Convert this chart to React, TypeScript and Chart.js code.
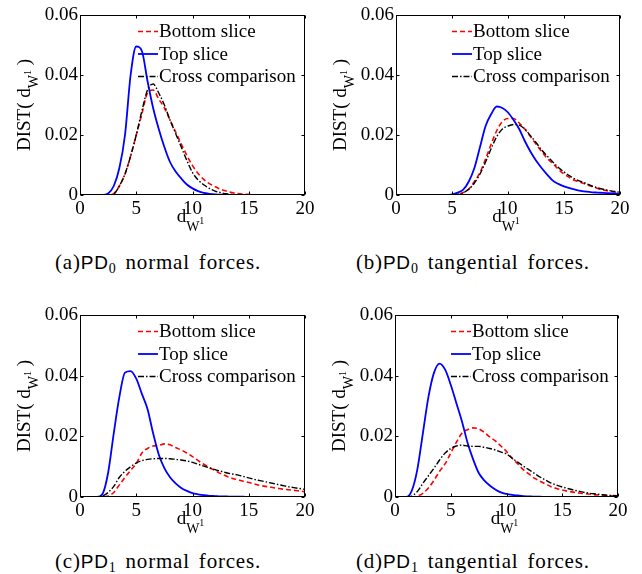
import React, { useEffect, useRef } from 'react';
import { Chart, registerables } from 'chart.js';

Chart.register(...registerables);

const SERIF = "'Liberation Serif', 'Times New Roman', serif";
const SANS = "'Liberation Sans', Arial, sans-serif";

const X_VALUES = [
  0, 0.5, 1, 1.5, 2, 2.5, 3, 3.5, 4, 4.5,
  5, 5.5, 6, 6.5, 7, 7.5, 8, 8.5, 9, 9.5,
  10, 10.5, 11, 11.5, 12, 12.5, 13, 13.5, 14, 14.5,
  15, 15.5, 16, 16.5, 17, 17.5, 18, 18.5, 19, 19.5,
  20,
];
const X_TICKS = [0, 5, 10, 15, 20];
const Y_TICKS = [0, 0.02, 0.04, 0.06];
const SERIES_NAMES = ['Bottom slice', 'Top slice', 'Cross comparison'];

// (a) PD0 normal forces
const A_BOTTOM = [0, 0, 0, 0, 0, 0, 0.0005, 0.003, 0.007, 0.013, 0.02, 0.027, 0.034, 0.035, 0.032, 0.029, 0.025, 0.021, 0.017, 0.0132, 0.0098, 0.0072, 0.0052, 0.0038, 0.0028, 0.0019, 0.0013, 0.0008, 0.0005, 0.0003, 0.0002, 0.0001, 0.0001, 0, 0, 0, 0, 0, 0, 0, 0];
const A_TOP = [0, 0, 0, 0, 0, 0.0005, 0.003, 0.009, 0.02, 0.04, 0.0495, 0.048, 0.038, 0.029, 0.022, 0.016, 0.011, 0.0078, 0.0055, 0.0035, 0.0022, 0.0013, 0.0007, 0.0004, 0.0002, 0.0001, 0.0001, 0, 0, 0, 0, 0, 0, 0, 0, 0, 0, 0, 0, 0, 0];
const A_CROSS = [0, 0, 0, 0, 0, 0, 0.0003, 0.003, 0.007, 0.013, 0.02, 0.028, 0.035, 0.037, 0.034, 0.03, 0.025, 0.0205, 0.016, 0.0115, 0.0075, 0.005, 0.0034, 0.0022, 0.0013, 0.0008, 0.0004, 0.0002, 0.0001, 0, 0, 0, 0, 0, 0, 0, 0, 0, 0, 0, 0];

// (b) PD0 tangential forces
const B_BOTTOM = [0, 0, 0, 0, 0, 0, 0, 0, 0, 0, 0, 0.0002, 0.0008, 0.002, 0.0045, 0.0075, 0.012, 0.017, 0.0215, 0.0245, 0.0255, 0.0255, 0.024, 0.022, 0.0195, 0.017, 0.0145, 0.0122, 0.0105, 0.0085, 0.007, 0.0058, 0.0048, 0.0042, 0.0035, 0.0028, 0.0022, 0.0017, 0.0013, 0.001, 0.0007];
const B_TOP = [0, 0, 0, 0, 0, 0, 0, 0, 0, 0, 0.0002, 0.0008, 0.0018, 0.0045, 0.009, 0.016, 0.023, 0.027, 0.0295, 0.029, 0.0275, 0.025, 0.022, 0.018, 0.0145, 0.0115, 0.009, 0.0068, 0.0048, 0.0037, 0.0029, 0.0023, 0.0018, 0.0014, 0.0011, 0.0009, 0.0008, 0.0007, 0.0006, 0.0005, 0.0004];
const B_CROSS = [0, 0, 0, 0, 0, 0, 0, 0, 0, 0, 0, 0.0002, 0.0008, 0.0019, 0.004, 0.007, 0.011, 0.0155, 0.0195, 0.022, 0.023, 0.0235, 0.0233, 0.022, 0.0198, 0.0175, 0.015, 0.013, 0.011, 0.0092, 0.0077, 0.0064, 0.0053, 0.0045, 0.0038, 0.003, 0.0024, 0.0019, 0.0015, 0.0012, 0.0009];

// (c) PD1 normal forces
const C_BOTTOM = [0, 0, 0, 0, 0, 0.0003, 0.0015, 0.004, 0.0065, 0.0088, 0.011, 0.0145, 0.016, 0.0168, 0.017, 0.0175, 0.0172, 0.0163, 0.0155, 0.0145, 0.0133, 0.012, 0.0108, 0.0097, 0.0087, 0.0077, 0.0069, 0.0062, 0.0057, 0.0052, 0.0048, 0.0043, 0.0038, 0.0035, 0.0032, 0.0029, 0.0026, 0.0024, 0.0022, 0.002, 0.0017];
const C_TOP = [0, 0, 0, 0, 0.001, 0.008, 0.021, 0.033, 0.041, 0.0415, 0.039, 0.034, 0.029, 0.021, 0.014, 0.0095, 0.0065, 0.0045, 0.003, 0.002, 0.0013, 0.0009, 0.0006, 0.0004, 0.0003, 0.0002, 0.0002, 0.0001, 0.0001, 0.0001, 0, 0, 0, 0, 0, 0, 0, 0, 0, 0, 0];
const C_CROSS = [0, 0, 0, 0, 0.0003, 0.0015, 0.0035, 0.0065, 0.0085, 0.01, 0.0112, 0.012, 0.0124, 0.0126, 0.0127, 0.0127, 0.0126, 0.0124, 0.0122, 0.0119, 0.0114, 0.0108, 0.0102, 0.0096, 0.009, 0.0085, 0.008, 0.0076, 0.0073, 0.0068, 0.0063, 0.0058, 0.0054, 0.005, 0.0046, 0.0042, 0.0038, 0.0034, 0.0031, 0.0028, 0.0025];

// (d) PD1 tangential forces
const D_BOTTOM = [0, 0, 0, 0, 0.0003, 0.0012, 0.003, 0.0055, 0.0085, 0.011, 0.0145, 0.018, 0.021, 0.0222, 0.0228, 0.0225, 0.0213, 0.0198, 0.0185, 0.0168, 0.015, 0.0128, 0.011, 0.009, 0.0076, 0.0062, 0.0052, 0.0043, 0.0034, 0.0028, 0.0023, 0.0019, 0.0016, 0.0013, 0.0011, 0.0009, 0.0007, 0.0006, 0.0005, 0.0004, 0.0003];
const D_TOP = [0, 0, 0, 0.002, 0.009, 0.021, 0.033, 0.041, 0.044, 0.042, 0.037, 0.031, 0.025, 0.018, 0.0125, 0.008, 0.0055, 0.0038, 0.0025, 0.0015, 0.001, 0.0007, 0.0005, 0.0003, 0.0002, 0.0001, 0.0001, 0, 0, 0, 0, 0, 0, 0, 0, 0, 0, 0, 0, 0, 0];
const D_CROSS = [0, 0, 0, 0.0003, 0.0018, 0.0045, 0.007, 0.0095, 0.0122, 0.0145, 0.016, 0.0168, 0.0171, 0.0168, 0.0167, 0.0167, 0.0164, 0.016, 0.0155, 0.0148, 0.0142, 0.0128, 0.0115, 0.0102, 0.009, 0.0078, 0.0066, 0.0056, 0.0046, 0.0039, 0.0033, 0.0028, 0.0023, 0.0019, 0.0015, 0.0012, 0.001, 0.0008, 0.0006, 0.0005, 0.0004];

const STYLES = [
  { color: '#ff0000', dash: [5, 3], width: 1.6, order: 3 },
  { color: '#0000ff', dash: [] as number[], width: 1.8, order: 2 },
  { color: '#000000', dash: [6, 2, 1.5, 2], width: 1.4, order: 1 },
];

type Panel = {
  key: string;
  left: number;
  top: number;
  width: number;
  height: number;
  padTop: number;
  padRight: number;
  yAxisWidth: number;
  xAxisHeight: number;
  legendDx: number;
  series: number[][];
};

const PANELS: Panel[] = [
  { key: 'a', left: 0, top: 0, width: 320, height: 240, padTop: 15, padRight: 15, yAxisWidth: 80, xAxisHeight: 45, legendDx: 58, series: [A_BOTTOM, A_TOP, A_CROSS] },
  { key: 'b', left: 320, top: 0, width: 322, height: 240, padTop: 15, padRight: 22, yAxisWidth: 76, xAxisHeight: 45, legendDx: 56, series: [B_BOTTOM, B_TOP, B_CROSS] },
  { key: 'c', left: 0, top: 300, width: 320, height: 240, padTop: 15, padRight: 15, yAxisWidth: 80, xAxisHeight: 43, legendDx: 58, series: [C_BOTTOM, C_TOP, C_CROSS] },
  { key: 'd', left: 320, top: 300, width: 322, height: 240, padTop: 15, padRight: 24, yAxisWidth: 75, xAxisHeight: 43, legendDx: 56, series: [D_BOTTOM, D_TOP, D_CROSS] },
];

type Run = { t: string; size: number; dy: number };

function runsWidth(ctx: CanvasRenderingContext2D, runs: Run[]) {
  let w = 0;
  for (const r of runs) {
    ctx.font = `${r.size}px ${SERIF}`;
    w += ctx.measureText(r.t).width;
  }
  return w;
}

function drawRuns(ctx: CanvasRenderingContext2D, runs: Run[], x: number, y: number) {
  let cx = x;
  for (const r of runs) {
    ctx.font = `${r.size}px ${SERIF}`;
    ctx.fillText(r.t, cx, y + r.dy);
    cx += ctx.measureText(r.t).width;
  }
}

const X_LABEL: Run[] = [
  { t: 'd', size: 19, dy: 0 },
  { t: 'W', size: 14, dy: 9 },
  { t: '1', size: 10, dy: 2 },
];
const Y_LABEL: Run[] = [
  { t: 'DIST( ', size: 19, dy: 0 },
  { t: 'd', size: 19, dy: 0 },
  { t: 'W', size: 14, dy: 8 },
  { t: '1', size: 10, dy: 1 },
  { t: ' )', size: 19, dy: 0 },
];

function makeDecorPlugin(panel: Panel) {
  return {
    id: 'decor' + panel.key,
    afterDraw(chart: any) {
      const ctx: CanvasRenderingContext2D = chart.ctx;
      const { left, right, top, bottom } = chart.chartArea;
      const xs = chart.scales.x;
      const ys = chart.scales.y;
      ctx.save();
      // frame
      ctx.strokeStyle = '#000';
      ctx.lineWidth = 1;
      ctx.setLineDash([]);
      const L = Math.round(left) + 0.5;
      const R = Math.round(right) - 0.5;
      const T = Math.round(top) + 0.5;
      const B = Math.round(bottom) - 0.5;
      ctx.strokeRect(L, T, R - L, B - T);
      // inward ticks
      ctx.beginPath();
      for (const v of X_TICKS) {
        const px = Math.round(xs.getPixelForValue(v)) + 0.5;
        ctx.moveTo(px, B);
        ctx.lineTo(px, B - 3);
        ctx.moveTo(px, T);
        ctx.lineTo(px, T + 3);
      }
      for (const v of Y_TICKS) {
        const py = Math.round(ys.getPixelForValue(v)) + 0.5;
        ctx.moveTo(L, py);
        ctx.lineTo(L + 3, py);
        ctx.moveTo(R, py);
        ctx.lineTo(R - 3, py);
      }
      ctx.stroke();

      // legend
      const rowY = [16.5, 39, 61.5];
      ctx.textBaseline = 'middle';
      ctx.textAlign = 'left';
      SERIES_NAMES.forEach((name, i) => {
        const st = STYLES[i];
        const y = top + rowY[i];
        const x0 = left + panel.legendDx;
        ctx.strokeStyle = st.color;
        ctx.lineWidth = st.width;
        ctx.setLineDash(st.dash);
        ctx.beginPath();
        ctx.moveTo(x0, y);
        ctx.lineTo(x0 + 20, y);
        ctx.stroke();
        ctx.setLineDash([]);
        ctx.fillStyle = '#000';
        ctx.font = `19px ${SERIF}`;
        ctx.fillText(name, x0 + 21, y + 1);
      });

      // axis titles
      ctx.textBaseline = 'alphabetic';
      ctx.fillStyle = '#000';
      const xw = runsWidth(ctx, X_LABEL);
      drawRuns(ctx, X_LABEL, (left + right) / 2 - xw / 2 - 2, bottom + 27);

      const yw = runsWidth(ctx, Y_LABEL);
      ctx.translate(left - 50, (top + bottom) / 2);
      ctx.rotate(-Math.PI / 2);
      drawRuns(ctx, Y_LABEL, -yw / 2, 0);
      ctx.restore();
    },
  };
}

function PanelChart({ panel }: { panel: Panel }) {
  const ref = useRef<HTMLCanvasElement | null>(null);
  useEffect(() => {
    if (!ref.current) return;
    const datasets = panel.series.map((vals, i) => ({
      label: SERIES_NAMES[i],
      data: X_VALUES.map((x, j) => ({ x, y: vals[j] })),
      borderColor: STYLES[i].color,
      borderDash: STYLES[i].dash,
      borderWidth: STYLES[i].width,
      order: STYLES[i].order,
      fill: false,
      pointRadius: 0,
      cubicInterpolationMode: 'monotone' as const,
    }));
    const tickFont = { family: SERIF, size: 19 };
    const chart = new Chart(ref.current, {
      type: 'line',
      data: { datasets },
      options: {
        animation: false,
        responsive: false,
        maintainAspectRatio: false,
        devicePixelRatio: 1,
        layout: { padding: { top: panel.padTop, right: panel.padRight, left: 0, bottom: 0 } },
        plugins: { legend: { display: false }, tooltip: { enabled: false } },
        scales: {
          x: {
            type: 'linear',
            min: 0,
            max: 20,
            afterBuildTicks: (s: any) => {
              s.ticks = X_TICKS.map((v) => ({ value: v }));
            },
            afterFit: (s: any) => {
              s.height = panel.xAxisHeight;
            },
            grid: { display: false, drawTicks: false },
            border: { display: false },
            ticks: { font: tickFont, color: '#000', padding: 3, maxRotation: 0, autoSkip: false },
          },
          y: {
            type: 'linear',
            min: 0,
            max: 0.06,
            afterBuildTicks: (s: any) => {
              s.ticks = Y_TICKS.map((v) => ({ value: v }));
            },
            afterFit: (s: any) => {
              s.width = panel.yAxisWidth;
            },
            grid: { display: false, drawTicks: false },
            border: { display: false },
            ticks: {
              font: tickFont,
              color: '#000',
              padding: 2,
              autoSkip: false,
              callback: (v: any) => (Number(v) === 0 ? '0' : Number(v).toFixed(2)),
            },
          },
        },
      } as any,
      plugins: [makeDecorPlugin(panel)],
    });
    return () => chart.destroy();
  }, [panel]);
  return (
    <canvas
      ref={ref}
      width={panel.width}
      height={panel.height}
      style={{ position: 'absolute', left: panel.left, top: panel.top, width: panel.width, height: panel.height }}
    />
  );
}

const CAPTIONS = [
  { key: 'a', tag: '(a)', sub: '0', rest: 'normal forces.', left: 55, top: 250 },
  { key: 'b', tag: '(b)', sub: '0', rest: 'tangential forces.', left: 356, top: 250 },
  { key: 'c', tag: '(c)', sub: '1', rest: 'normal forces.', left: 55, top: 549 },
  { key: 'd', tag: '(d)', sub: '1', rest: 'tangential forces.', left: 356, top: 549 },
];

export default function App() {
  return (
    <div style={{ position: 'fixed', left: 0, top: 0, width: 642, height: 574, background: '#fff', overflow: 'hidden' }}>
      {PANELS.map((p) => (
        <PanelChart key={p.key} panel={p} />
      ))}
      {CAPTIONS.map((c) => (
        <div
          key={c.key}
          style={{
            position: 'absolute',
            left: c.left,
            top: c.top,
            fontFamily: SERIF,
            fontSize: 21,
            lineHeight: '24px',
            whiteSpace: 'pre',
            letterSpacing: 0.8,
            wordSpacing: 3,
            color: '#000',
          }}
        >
          <span>{c.tag}</span>
          <span style={{ fontFamily: SANS, fontSize: 19 }}>PD</span>
          <span style={{ fontSize: 14, position: 'relative', top: 4 }}>{c.sub}</span>
          <span style={{ marginLeft: 9 }}>{c.rest}</span>
        </div>
      ))}
    </div>
  );
}
